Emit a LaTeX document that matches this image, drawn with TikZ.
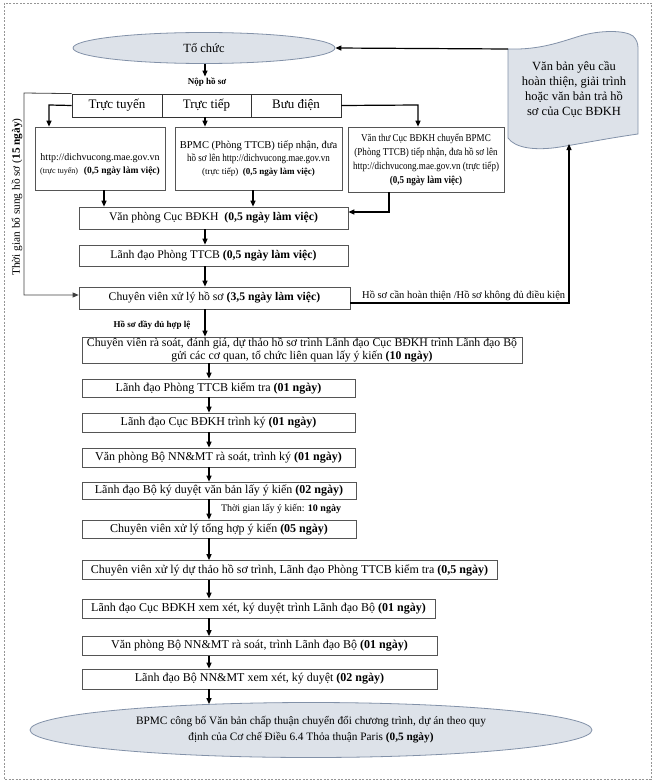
\documentclass[tikz,border=0pt]{standalone}
\usepackage{fontspec}
\setmainfont{Liberation Serif}
\newfontfamily\condfont{Liberation Serif}[FakeStretch=0.86]
\usetikzlibrary{arrows.meta,shapes.geometric}
\definecolor{ovfill}{RGB}{221,226,233}
\definecolor{ovline}{RGB}{130,145,168}
\definecolor{boxline}{RGB}{85,85,85}
\definecolor{framec}{RGB}{150,150,150}
\begin{document}
\begin{tikzpicture}[x=1pt,y=-1pt,
  box/.style={draw=boxline, line width=0.7pt, inner sep=1pt, align=center, font=\fontsize{11.7}{13}\selectfont},
  lowbox/.style={box, font=\fontsize{12}{13}\selectfont},
  cell/.style={draw=black!80, line width=0.8pt, inner sep=0pt, minimum height=23, font=\fontsize{13}{15}\selectfont},
  oval/.style={ellipse, draw=ovline, fill=ovfill, line width=0.8pt, align=center, inner sep=0pt},
  arr/.style={-{Triangle[length=6pt,width=5pt]}, line width=1.2pt},
  thinarr/.style={-{Triangle[length=6pt,width=5pt]}, line width=0.8pt, draw=black!75},
  lbl/.style={inner sep=1pt, font=\fontsize{9}{11}\selectfont\bfseries}
]
\useasboundingbox (0,0) rectangle (655,784);
\draw[framec, line width=0.9pt, dash pattern=on 2pt off 1.5pt] (4,3) rectangle (651,779);

% column coordinates
\coordinate (colA) at (205,0);
\coordinate (colB) at (209,0);

% top ellipse
\node[oval, minimum width=262, minimum height=31, font=\fontsize{12.5}{14}\selectfont] (tc) at (204,48) {Tổ chức};
\node[lbl] (np) at (207,82) {Nộp hồ sơ};

% channels
\node[cell, minimum width=90] (c1) at (117,105.5) {Trực tuyến};
\node[cell, minimum width=89] (c2) at (206.5,105.5) {Trực tiếp};
\node[cell, minimum width=90] (c3) at (296,105.5) {Bưu điện};

% three reception boxes
\node[box, minimum width=130, minimum height=63] (b1) at (100,158.5)
  {\rule{0pt}{20pt}{\fontsize{10}{12}\selectfont http://dichvucong.mae.gov.vn}\\
   {\fontsize{8}{10}\selectfont (trực tuyến)}\ \ {\fontsize{9.5}{11}\selectfont\bfseries (0,5 ngày làm việc)}};
\node[box, minimum width=167, minimum height=63, font=\fontsize{10.5}{13}\selectfont] (b2) at (258.5,158.5)
  {BPMC (Phòng TTCB) tiếp nhận, đưa\\
   {\condfont hồ sơ lên http://dichvucong.mae.gov.vn}\\
   {\fontsize{9}{11}\selectfont (trực tiếp)\ \ \bfseries (0,5 ngày làm việc)}};
\node[box, minimum width=156, minimum height=65, font=\fontsize{10.5}{14}\condfont] (b3) at (426,159.5)
  {Văn thư Cục BĐKH chuyển BPMC\\
   (Phòng TTCB) tiếp nhận, đưa hồ sơ lên\\
   http://dichvucong.mae.gov.vn (trực tiếp)\\
   \textbf{(0,5 ngày làm việc)}};

% main column
\node[box, minimum width=269, minimum height=22] (vp) at (213.5,218) {Văn phòng Cục BĐKH\ \ \textbf{(0,5 ngày làm việc)}};
\node[box, minimum width=269, minimum height=21] (ld) at (213.5,255.5) {Lãnh đạo Phòng TTCB \textbf{(0,5 ngày làm việc)}};
\node[box, minimum width=271, minimum height=22] (cv) at (214.5,298) {Chuyên viên xử lý hồ sơ \textbf{(3,5 ngày làm việc)}};
\node[lbl] (hl) at (152,325) {Hồ sơ đầy đủ hợp lệ};
\node[box, minimum width=440, minimum height=26, font=\fontsize{11.8}{12.5}\selectfont] (rs) at (302,350)
  {Chuyên viên rà soát, đánh giá, dự thảo hồ sơ trình Lãnh đạo Cục BĐKH trình Lãnh đạo Bộ\\
   gửi các cơ quan, tổ chức liên quan lấy ý kiến \textbf{(10 ngày)}};
\node[lowbox, minimum width=273, minimum height=18] (kt) at (218.5,388) {Lãnh đạo Phòng TTCB kiểm tra \textbf{(01 ngày)}};
\node[lowbox, minimum width=273, minimum height=19] (tk) at (218.5,422.5) {Lãnh đạo Cục BĐKH trình ký \textbf{(01 ngày)}};
\node[lowbox, minimum width=273, minimum height=19] (vpb) at (218.5,457.5) {Văn phòng Bộ NN\&MT rà soát, trình ký \textbf{(01 ngày)}};
\node[lowbox, minimum width=274, minimum height=17] (lbk) at (219,490.5) {Lãnh đạo Bộ ký duyệt văn bản lấy ý kiến \textbf{(02 ngày)}};
\node[inner sep=1pt, font=\fontsize{10}{11}\selectfont] (tg) at (281,509) {Thời gian lấy ý kiến: \textbf{10 ngày}};
\node[lowbox, minimum width=274, minimum height=18] (th) at (219,529) {Chuyên viên xử lý tổng hợp ý kiến \textbf{(05 ngày)}};
\node[lowbox, minimum width=415, minimum height=19] (dt) at (289.5,570) {Chuyên viên xử lý dự thảo hồ sơ trình, Lãnh đạo Phòng TTCB kiểm tra \textbf{(0,5 ngày)}};
\node[lowbox, minimum width=353, minimum height=19] (xx) at (258.5,608.5) {Lãnh đạo Cục BĐKH xem xét, ký duyệt trình Lãnh đạo Bộ \textbf{(01 ngày)}};
\node[lowbox, minimum width=355, minimum height=19] (vpl) at (259.5,646) {Văn phòng Bộ NN\&MT rà soát, trình Lãnh đạo Bộ \textbf{(01 ngày)}};
\node[lowbox, minimum width=355, minimum height=20] (lbn) at (259.5,679) {Lãnh đạo Bộ NN\&MT xem xét, ký duyệt \textbf{(02 ngày)}};
\node[oval, minimum width=562, minimum height=55, font=\fontsize{11.3}{16}\selectfont] (cb) at (311,730)
  {BPMC công bố Văn bản chấp thuận chuyển đổi chương trình, dự án theo quy\\
   định của Cơ chế Điều 6.4 Thỏa thuận Paris \textbf{(0,5 ngày)}};

% document-shaped box on the right
\coordinate (vbw) at (508,49);
\coordinate (vbb) at (569,144);
\fill[ovfill] (508,49) .. controls (540,50) and (560,42) .. (580,36)
  .. controls (600,30) and (625,30) .. (633,36) .. controls (637,40) and (638,44) .. (638,48)
  -- (638,134) .. controls (610,138) and (590,142) .. (560,147)
  .. controls (535,151) and (515,148) .. (508,138) -- cycle;
\draw[ovline, line width=0.8pt] (508,49) .. controls (540,50) and (560,42) .. (580,36)
  .. controls (600,30) and (625,30) .. (633,36) .. controls (637,40) and (638,44) .. (638,48)
  -- (638,134) .. controls (610,138) and (590,142) .. (560,147)
  .. controls (535,151) and (515,148) .. (508,138) -- cycle;
\node[align=center, inner sep=0pt, font=\fontsize{12.5}{15}\selectfont] (vb) at (574,90)
  {Văn bản yêu cầu\\hoàn thiện, giải trình\\hoặc văn bản trả hồ\\sơ của Cục BĐKH};

% side labels
\node[rotate=90, inner sep=1pt, font=\fontsize{11.3}{13}\selectfont] (tgl) at (17,197) {Thời gian bổ sung hồ sơ (\textbf{15 ngày})};
\node[inner sep=1pt, font=\fontsize{10.5}{12}\selectfont, anchor=south west] (hc) at (361,302) {Hồ sơ cần hoàn thiện /Hồ sơ không đủ điều kiện};

% connectors top
\draw[arr] (tc.south -| colA) -- (np.north -| colA);
\draw[arr] (vbw) -- (tc.east);
\coordinate (k1) at (49,105);
\coordinate (k3) at (418,105);
\draw[arr] (c1.west) -- (k1) -- (k1 |- b1.north);
\draw[arr] (c2.south -| colA) -- (b2.north -| colA);
\draw[arr] (c3.east) -- (k3) -- (k3 |- b3.north);
\coordinate (xa) at (104,0);
\coordinate (xb) at (253,0);
\draw[arr] (b1.south -| xa) -- (vp.north -| xa);
\draw[arr] (b2.south -| xb) -- (vp.north -| xb);
\coordinate (k4) at (389,212);
\draw[arr] (b3.south -| k4) -- (k4) -- (k4 -| vp.east);
\draw[arr] (vp.south -| colA) -- (ld.north -| colA);
\draw[arr] (ld.south -| colA) -- (cv.north -| colA);

% loop left
\coordinate (lp1) at (24,93);
\coordinate (lp2) at (24,295);
\draw[thinarr] (c1.north west) -- (lp1) -- (lp2) -- (lp2 -| cv.west);

% loop right
\coordinate (k5) at (569,303);
\draw[arr] (k5 -| cv.east) -- (k5) -- (vbb);

% main column connectors
\draw[arr] (cv.south -| colA) -- (rs.north -| colA);
\draw[arr] (rs.south -| colB) -- (kt.north -| colB);
\draw[arr] (kt.south -| colB) -- (tk.north -| colB);
\draw[arr] (tk.south -| colB) -- (vpb.north -| colB);
\draw[arr] (vpb.south -| colB) -- (lbk.north -| colB);
\draw[arr] (lbk.south -| colB) -- (th.north -| colB);
\draw[arr] (th.south -| colB) -- (dt.north -| colB);
\draw[arr] (dt.south -| colB) -- (xx.north -| colB);
\draw[arr] (xx.south -| colB) -- (vpl.north -| colB);
\draw[arr] (vpl.south -| colB) -- (lbn.north -| colB);
\draw[arr] (lbn.south -| colB) -- ([yshift=-2pt]cb.north -| colB);
\end{tikzpicture}
\end{document}
